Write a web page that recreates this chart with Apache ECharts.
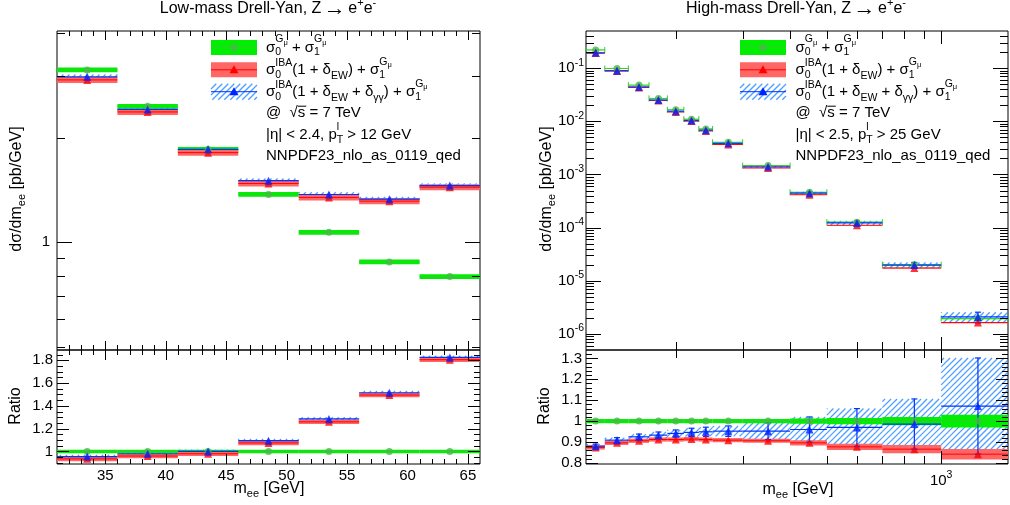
<!DOCTYPE html>
<html>
<head>
<meta charset="utf-8">
<title>Drell-Yan, Z to ee</title>
<script src="https://cdn.jsdelivr.net/npm/echarts@6/dist/echarts.min.js"></script>
<style>
  html, body { margin: 0; padding: 0; background: #fff; }
  #main { width: 1010px; height: 505px; }
</style>
</head>
<body>
<div id="main"></div>
<script>
// ---- bins [GeV]
const lowEdges = [31, 36, 41, 46, 51, 56, 61, 66];
const highEdges = [116, 130, 150, 170, 190, 210, 230, 250, 300, 400, 500, 700, 1000, 1500];

// ---- low mass, dsigma/dm [pb/GeV]
const lowGmu = [3.13, 2.46, 1.85, 1.373, 1.068, 0.878, 0.797];
const lowEW = [2.93, 2.37, 1.81, 1.476, 1.346, 1.313, 1.44];
const lowEWgg = [2.99, 2.41, 1.85, 1.503, 1.372, 1.33, 1.455];
// ratio to sigma0^Gmu + sigma1^Gmu
const lowRatioGmu = [1, 1, 1, 1, 1, 1, 1];
const lowRatioEW = [0.935, 0.96, 0.98, 1.075, 1.26, 1.495, 1.805];
const lowRatioEWgg = [0.955, 0.98, 1.0, 1.095, 1.285, 1.515, 1.825];
// band half widths (relative)
const lowUncGmu = [0.016, 0.016, 0.016, 0.016, 0.016, 0.016, 0.016];
const lowUncEW = [0.02, 0.02, 0.02, 0.02, 0.02, 0.02, 0.02];
const lowUncEWgg = [0.015, 0.015, 0.015, 0.015, 0.015, 0.015, 0.015];

// ---- high mass
const highGmu = [0.22, 0.0987, 0.048, 0.027, 0.0165, 0.011, 0.0072, 0.00404, 0.00147, 4.64e-4, 1.27e-4, 2.01e-5, 1.95e-6];
const highEW = [0.192, 0.0884, 0.0435, 0.0246, 0.015, 0.0101, 0.0066, 0.00367, 0.00133, 4.16e-4, 1.11e-4, 1.74e-5, 1.64e-6];
const highEWgg = [0.194, 0.0897, 0.0444, 0.0252, 0.0155, 0.0104, 0.00683, 0.00385, 0.0014, 4.45e-4, 1.23e-4, 1.98e-5, 2.09e-6];
const highRatioGmu = [1, 1, 1, 1, 1, 1, 1, 1, 1, 1, 1, 1, 1];
const highRatioEW = [0.874, 0.896, 0.906, 0.912, 0.912, 0.914, 0.912, 0.909, 0.906, 0.896, 0.877, 0.866, 0.842];
const highRatioEWgg = [0.88, 0.909, 0.925, 0.933, 0.941, 0.946, 0.949, 0.952, 0.952, 0.96, 0.97, 0.986, 1.072];
const highUncGmu = [0.01, 0.01, 0.01, 0.01, 0.01, 0.01, 0.01, 0.01, 0.01, 0.012, 0.015, 0.02, 0.03];
const highUncEW = [0.01, 0.01, 0.01, 0.01, 0.01, 0.01, 0.01, 0.01, 0.01, 0.012, 0.015, 0.02, 0.025];
const highUncEWgg = [0.01, 0.012, 0.013, 0.015, 0.017, 0.02, 0.022, 0.025, 0.04, 0.06, 0.09, 0.12, 0.23];

// ---- tick labels
const lowMassLabels = [35, 40, 45, 50, 55, 60, 65];
const lowXsecLabels = [1];
const lowRatioLabels = [1, 1.2, 1.4, 1.6, 1.8];
const highMassLabels = [1000];
const highXsecLabels = [1e-6, 1e-5, 1e-4, 1e-3, 1e-2, 1e-1];
const highRatioLabels = [0.8, 0.9, 1, 1.1, 1.2, 1.3];

// minor ticks
const lowMassMinor = [];
for (let m = 32; m < 66; m++) if (m % 5) lowMassMinor.push(m);
const lowXsecMinor = [0.5, 0.6, 0.7, 0.8, 0.9, 2, 3, 4];
const lowRatioMinor = [];
for (let i = 18; i <= 37; i++) { if (i >= 20 && i % 4 === 0) continue; lowRatioMinor.push(i * 0.05); }
const highMassMinor = [200, 300, 400, 500, 600, 700, 800, 900];
const highXsecMinor = [];
for (let n = -7; n <= -1; n++) for (let k = 2; k <= 9; k++) {
  const v = k * Math.pow(10, n);
  if (v > 5e-7 && v < 0.5) highXsecMinor.push(v);
}
const highRatioMinor = [];
for (let i = 40; i <= 66; i++) if (i % 5) highRatioMinor.push(i * 0.02);

// ---- styles
const FONT = 'Liberation Sans';
const C_G_BAND = '#00ee00', C_G_LINE = '#33cc33', C_G_MARK = '#44bb44';
const C_R_BAND = '#ff6666', C_R_LINE = '#ff0000', C_R_MARK = '#ff0000';
const C_B_LINE = '#0033ff', C_B_MARK = '#0022ff', C_HATCH = '#2f8fff';

// "/" hatching clipped to a rectangle, aligned to the page
function hatchLines(x0, y0, w, h, s) {
  const x1 = x0 + w, y1 = y0 + h, out = [];
  for (let c = Math.ceil((x0 + y0) / s) * s; c <= x1 + y1; c += s) {
    const xa = Math.max(x0, c - y1), xb = Math.min(x1, c - y0);
    if (xb > xa) out.push({ type: 'line', shape: { x1: xa, y1: c - xa, x2: xb, y2: c - xb },
      style: { stroke: C_HATCH, lineWidth: 1.3, opacity: 0.85 } });
  }
  return out;
}

// text with sub/superscripts
const measure = document.createElement('canvas').getContext('2d');
function tw(t, s) { measure.font = s + 'px "' + FONT + '"'; return measure.measureText(t).width; }

// parts: [text, size, dy, flag] ; flag 'b' = stacked on previous part, 'o' = overline
function tex(parts, x, y, align, rot) {
  let pen = 0, last = 0;
  const els = [];
  parts.forEach(([t, s, dy, flag]) => {
    const w = tw(t, s);
    let px;
    if (flag === 'b') { px = last; pen = Math.max(pen, last + w); }
    else { px = pen; last = pen; pen += w; }
    els.push({ type: 'text', x: px, y: dy,
      style: { text: t, fontSize: s, fontFamily: FONT, fill: '#000', align: 'left', verticalAlign: 'middle' } });
    if (flag === 'o') {
      els.push({ type: 'line', shape: { x1: px, y1: dy - s * 0.42, x2: px + w + 1, y2: dy - s * 0.42 },
        style: { stroke: '#000', lineWidth: 1 } });
    }
  });
  const off = align === 'center' ? -pen / 2 : 0;
  els.forEach(e => {
    if (e.type === 'text') e.x += off;
    else { e.shape.x1 += off; e.shape.x2 += off; }
  });
  return { type: 'group', x: x, y: y, rotation: rot || 0, children: els };
}

const sig = n => [['σ', 15, 0], [n, 10.5, 5], ['G', 10.5, -8, 'b'], ['μ', 7.5, -5]];
const sigIBA = [['σ', 15, 0], ['0', 10.5, 5], ['IBA', 10.5, -7, 'b']];
function legendRows(cut) {
  return [
    [...sig('0'), [' + ', 15, 0], ...sig('1')],
    [...sigIBA, ['(1 + δ', 15, 0], ['EW', 10.5, 6], [') + ', 15, 0], ...sig('1')],
    [...sigIBA, ['(1 + δ', 15, 0], ['EW', 10.5, 6], [' + δ', 15, 0], ['γγ', 10.5, 6], [') + ', 15, 0], ...sig('1')],
    [['@  ', 15, 0], ['√', 15, 0], ['s', 15, 0, 'o'], [' = 7 TeV', 15, 0]],
    [[cut[0], 15, 0], ['l', 10.5, -7], ['T', 10.5, 6, 'b'], [cut[1], 15, 0]],
    [['NNPDF23_nlo_as_0119_qed', 15, 0]]
  ];
}
const rowY = [47.5, 69.8, 91.7, 112.5, 134.5, 156];

function legend(x0, tx, cut) {
  const els = [];
  ['g', 'r', 'b'].forEach((k, i) => {
    const y = rowY[i], cx = x0 + 23;
    if (k === 'b') els.push(...hatchLines(x0, y - 8, 46, 16, 6));
    else els.push({ type: 'rect', shape: { x: x0, y: y - 7.5, width: 46, height: 15 },
      style: { fill: k === 'g' ? C_G_BAND : C_R_BAND } });
    els.push({ type: 'line', shape: { x1: x0, y1: y, x2: x0 + 46, y2: y },
      style: { stroke: k === 'g' ? C_G_LINE : k === 'r' ? C_R_LINE : C_B_LINE, lineWidth: 1 } });
    if (k === 'g') els.push({ type: 'circle', shape: { cx: cx, cy: y, r: 3.5 }, style: { fill: C_G_MARK } });
    else els.push({ type: 'polygon', shape: { points: [[cx, y - 4.5], [cx - 4.5, y + 3.5], [cx + 4.5, y + 3.5]] },
      style: { fill: k === 'r' ? C_R_MARK : C_B_MARK } });
  });
  legendRows(cut).forEach((r, i) => els.push(tex(r, tx, rowY[i])));
  return els;
}

// ---- series builders
function bandItem(fill) {
  return (params, api) => {
    const a = api.coord([api.value(0), api.value(4)]);
    const b = api.coord([api.value(1), api.value(3)]);
    const w = b[0] - a[0], h = b[1] - a[1];
    if (fill === 'hatch') return { type: 'group', children: hatchLines(a[0], a[1], w, h, 6) };
    return { type: 'rect', shape: { x: a[0], y: a[1], width: w, height: h }, style: { fill: fill } };
  };
}
function lineItem(color, width, cap, vbar) {
  return (params, api) => {
    const lo = api.value(0), hi = api.value(1), v = api.value(2);
    const a = api.coord([lo, v]), b = api.coord([hi, v]);
    const st = { stroke: color, lineWidth: width };
    const ch = [{ type: 'line', shape: { x1: a[0], y1: a[1], x2: b[0], y2: b[1] }, style: st }];
    if (cap) {
      ch.push({ type: 'line', shape: { x1: a[0], y1: a[1] - cap, x2: a[0], y2: a[1] + cap }, style: st });
      ch.push({ type: 'line', shape: { x1: b[0], y1: b[1] - cap, x2: b[0], y2: b[1] + cap }, style: st });
    }
    if (vbar) {
      const c = (lo + hi) / 2;
      const t = api.coord([c, api.value(4)]), d = api.coord([c, api.value(3)]);
      ch.push({ type: 'line', shape: { x1: t[0], y1: t[1], x2: d[0], y2: d[1] }, style: st });
      ch.push({ type: 'line', shape: { x1: t[0] - 3, y1: t[1], x2: t[0] + 3, y2: t[1] }, style: st });
      ch.push({ type: 'line', shape: { x1: d[0] - 3, y1: d[1], x2: d[0] + 3, y2: d[1] }, style: st });
    }
    return { type: 'group', children: ch };
  };
}

function panel(k, edges, vals, uncs, rel, opts) {
  const mk = (v, u) => v.map((y, i) => {
    const d = rel ? y * u[i] : u[i];
    return [edges[i], edges[i + 1], y, y - d, y + d];
  });
  const G = mk(vals[0], uncs[0]), R = mk(vals[1], uncs[1]), B = mk(vals[2], uncs[2]);
  const base = { type: 'custom', xAxisIndex: k, yAxisIndex: k, silent: true, encode: { x: [0, 1], y: [2, 3, 4] } };
  const centres = rows => rows.map(r => [(r[0] + r[1]) / 2, r[2]]);
  const sc = { type: 'scatter', xAxisIndex: k, yAxisIndex: k, silent: true, z: 4 };
  return [
    { ...base, z: 2, data: B, renderItem: bandItem('hatch') },
    { ...base, z: 2, data: G, renderItem: bandItem(C_G_BAND) },
    { ...base, z: 2, data: R, renderItem: bandItem(C_R_BAND) },
    { ...base, z: 3, data: G, renderItem: lineItem(C_G_LINE, 1, opts.caps, false) },
    { ...base, z: 3, data: R, renderItem: lineItem(C_R_LINE, 1, 0, false) },
    { ...base, z: 3, data: B, renderItem: lineItem(C_B_LINE, 1.2, 0, opts.vbar) },
    { ...sc, data: centres(G), symbol: 'circle', symbolSize: 7, itemStyle: { color: C_G_MARK } },
    { ...sc, data: centres(R), symbol: 'triangle', symbolSize: 8, itemStyle: { color: C_R_MARK } },
    { ...sc, data: centres(B), symbol: 'triangle', symbolSize: 8, itemStyle: { color: C_B_MARK } }
  ];
}

// tick marks drawn on both sides of each frame
function ticks(k, dir, anchor, values, len) {
  return {
    type: 'custom', xAxisIndex: k, yAxisIndex: k, silent: true, z: 5,
    encode: { x: 0, y: 1 },
    data: values.map(v => dir === 'y' ? [anchor, v] : [v, anchor]),
    renderItem: (params, api) => {
      const cs = params.coordSys;
      const st = { stroke: '#000', lineWidth: 1 };
      if (dir === 'y') {
        const y = Math.round(api.coord([anchor, api.value(1)])[1]) + 0.5;
        return { type: 'group', children: [
          { type: 'line', shape: { x1: cs.x, y1: y, x2: cs.x + len, y2: y }, style: st },
          { type: 'line', shape: { x1: cs.x + cs.width - len, y1: y, x2: cs.x + cs.width, y2: y }, style: st }] };
      }
      const x = Math.round(api.coord([api.value(0), anchor])[0]) + 0.5;
      return { type: 'group', children: [
        { type: 'line', shape: { x1: x, y1: cs.y + cs.height - len, x2: x, y2: cs.y + cs.height }, style: st },
        { type: 'line', shape: { x1: x, y1: cs.y, x2: x, y2: cs.y + len }, style: st }] };
    }
  };
}

const near = (a, b) => Math.abs(a - b) <= 1e-6 * Math.max(1, Math.abs(b));
const pick = list => v => { const m = list.find(t => near(v, t)); return m === undefined ? '' : String(m); };
const powLabel = list => v => {
  const m = list.find(t => near(v, t));
  return m === undefined ? '' : '{b|10}{e|' + Math.round(Math.log10(m)) + '}';
};
const rich = {
  b: { fontSize: 15, fontFamily: FONT, color: '#000', lineHeight: 22 },
  e: { fontSize: 10.5, fontFamily: FONT, color: '#000', lineHeight: 10, verticalAlign: 'top' }
};
const lab = { fontSize: 15, fontFamily: FONT, color: '#000' };
const plain = { axisLine: { show: false }, axisTick: { show: false }, splitLine: { show: false } };

const gridBase = { show: true, borderColor: '#000', borderWidth: 1, backgroundColor: 'transparent', containLabel: false, outerBoundsMode: 'none' };

const option = {
  animation: false,
  backgroundColor: '#fff',
  grid: [
    { ...gridBase, left: 57, top: 31, width: 423, height: 319 },
    { ...gridBase, left: 57, top: 350, width: 423, height: 114 },
    { ...gridBase, left: 586, top: 31, width: 422, height: 319 },
    { ...gridBase, left: 586, top: 350, width: 422, height: 114 }
  ],
  xAxis: [
    { ...plain, gridIndex: 0, type: 'value', min: 31, max: 66, splitNumber: 7, axisLabel: { show: false } },
    { ...plain, gridIndex: 1, type: 'value', min: 31, max: 66, splitNumber: 7,
      axisLabel: { ...lab, margin: 4, formatter: pick(lowMassLabels) } },
    { ...plain, gridIndex: 2, type: 'log', min: 116, max: 1500, axisLabel: { show: false } },
    { ...plain, gridIndex: 3, type: 'log', min: 116, max: 1500,
      axisLabel: { margin: 6, formatter: powLabel(highMassLabels), rich: rich } }
  ],
  yAxis: [
    { ...plain, gridIndex: 0, type: 'log', min: 0.49, max: 4.05,
      axisLabel: { ...lab, margin: 7, formatter: pick(lowXsecLabels) } },
    { ...plain, gridIndex: 1, type: 'value', min: 0.89, max: 1.89, splitNumber: 5,
      axisLabel: { ...lab, margin: 4, formatter: pick(lowRatioLabels) } },
    { ...plain, gridIndex: 2, type: 'log', min: 5e-7, max: 0.5, splitNumber: 6,
      axisLabel: { margin: 2, formatter: powLabel(highXsecLabels), rich: rich } },
    { ...plain, gridIndex: 3, type: 'value', min: 0.795, max: 1.34, splitNumber: 5,
      axisLabel: { ...lab, margin: 4, formatter: pick(highRatioLabels) } }
  ],
  series: [
    ...panel(0, lowEdges, [lowGmu, lowEW, lowEWgg], [lowUncGmu, lowUncEW, lowUncEWgg], true, {}),
    ...panel(1, lowEdges, [lowRatioGmu, lowRatioEW, lowRatioEWgg], [lowUncGmu, lowUncEW, lowUncEWgg], false, {}),
    ...panel(2, highEdges, [highGmu, highEW, highEWgg], [highUncGmu, highUncEW, highUncEWgg], true, { caps: 3, vbar: true }),
    ...panel(3, highEdges, [highRatioGmu, highRatioEW, highRatioEWgg], [highUncGmu, highUncEW, highUncEWgg], false, { vbar: true }),
    ticks(0, 'y', 40, lowXsecLabels, 15), ticks(0, 'y', 40, lowXsecMinor, 8),
    ticks(0, 'x', 1, lowMassLabels, 9), ticks(0, 'x', 1, lowMassMinor, 5),
    ticks(1, 'y', 40, lowRatioLabels, 12), ticks(1, 'y', 40, lowRatioMinor, 6),
    ticks(1, 'x', 1, lowMassLabels, 10), ticks(1, 'x', 1, lowMassMinor, 5),
    ticks(2, 'y', 200, highXsecLabels, 15), ticks(2, 'y', 200, highXsecMinor, 8),
    ticks(2, 'x', 1e-3, highMassLabels, 13), ticks(2, 'x', 1e-3, highMassMinor, 8),
    ticks(3, 'y', 200, highRatioLabels, 12), ticks(3, 'y', 200, highRatioMinor, 6),
    ticks(3, 'x', 1, highMassLabels, 13), ticks(3, 'x', 1, highMassMinor, 8)
  ],
  graphic: { elements: [
    tex([['Low-mass Drell-Yan, Z', 16, 0], [' ', 9, 0], ['→', 22, 0], [' ', 9, 0], ['e', 16, 0], ['+', 11, -6], ['e', 16, 0], ['-', 11, -6]], 268, 9, 'center'),
    tex([['High-mass Drell-Yan, Z', 16, 0], [' ', 9, 0], ['→', 22, 0], [' ', 9, 0], ['e', 16, 0], ['+', 11, -6], ['e', 16, 0], ['-', 11, -6]], 796, 9, 'center'),
    tex([['dσ/dm', 16, 0], ['ee', 11, 5], [' [pb/GeV]', 16, 0]], 17, 189, 'center', Math.PI / 2),
    tex([['dσ/dm', 16, 0], ['ee', 11, 5], [' [pb/GeV]', 16, 0]], 547, 189, 'center', Math.PI / 2),
    tex([['Ratio', 16, 0]], 16, 406, 'center', Math.PI / 2),
    tex([['Ratio', 16, 0]], 545, 406, 'center', Math.PI / 2),
    tex([['m', 16, 0], ['ee', 11, 5], [' [GeV]', 16, 0]], 269, 489, 'center'),
    tex([['m', 16, 0], ['ee', 11, 5], [' [GeV]', 16, 0]], 798, 490, 'center'),
    ...legend(211, 266, ['|η| < 2.4, p', ' > 12 GeV']),
    ...legend(740, 795.5, ['|η| < 2.5, p', ' > 25 GeV'])
  ] }
};

const chart = echarts.init(document.getElementById('main'), null, { renderer: 'canvas' });
chart.setOption(option);
</script>
</body>
</html>
